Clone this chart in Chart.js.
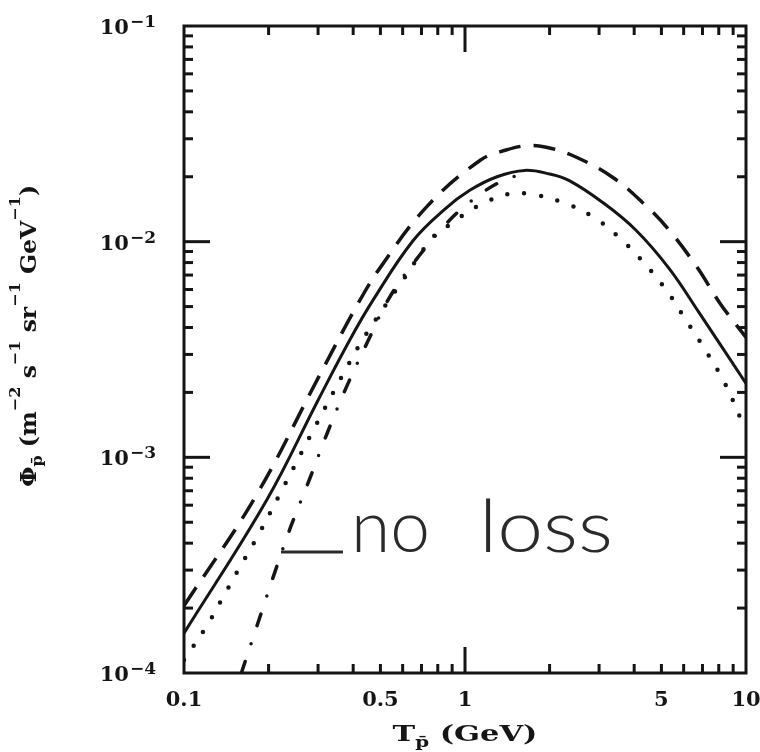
<!DOCTYPE html>
<html>
<head>
<meta charset="utf-8">
<script src="https://cdn.jsdelivr.net/npm/chart.js@4.4.1/dist/chart.umd.min.js"></script>
<style>
  html, body { margin: 0; padding: 0; background: #fff; }
  canvas { display: block; }
</style>
</head>
<body>
<canvas id="myChart" width="760" height="752"></canvas>
<script>
// curves (T in GeV, flux in m^-2 s^-1 sr^-1 GeV^-1)
var solidT   = [0.1, 0.197, 0.3, 0.389, 0.47, 0.653, 0.85, 1.04, 1.3, 1.63, 2.0, 2.35, 3.09, 4.06, 5.33, 6.8, 10];
var solidPhi = [1.53e-4, 6.34e-4, 1.84e-3, 3.5e-3, 5.34e-3, 0.0101, 0.0142, 0.0173, 0.0200, 0.0214, 0.0206, 0.0192, 0.0152, 0.0113, 7.5e-3, 4.7e-3, 2.2e-3];

var dashedT   = [0.1, 0.18, 0.3, 0.416, 0.5, 0.73, 1.13, 1.4, 1.69, 2.0, 2.48, 3.35, 4.4, 5.33, 6.7, 8.1, 10];
var dashedPhi = [2.05e-4, 6.6e-4, 2.33e-3, 5.16e-3, 7.6e-3, 0.0145, 0.0238, 0.0266, 0.0279, 0.0272, 0.0247, 0.0199, 0.0147, 0.0113, 7.6e-3, 5.16e-3, 3.6e-3];

var dottedT   = [0.1, 0.12, 0.138, 0.159, 0.184, 0.225, 0.294, 0.386, 0.446, 0.6, 0.77, 0.9, 1.1, 1.44, 1.66, 2.2, 2.87, 3.59, 4.38, 5.26, 6.0, 7.19, 8.36, 9.6];
var dottedPhi = [1.15e-4, 1.64e-4, 2.26e-4, 3.14e-4, 4.37e-4, 7.2e-4, 1.40e-3, 2.72e-3, 3.75e-3, 6.6e-3, 0.0105, 0.0122, 0.01455, 0.01668, 0.0167, 0.01531, 0.01297, 0.01027, 7.85e-3, 5.85e-3, 4.5e-3, 3.12e-3, 2.24e-3, 1.5e-3];

var dashDotT   = [0.16, 0.185, 0.211, 0.24, 0.279, 0.323, 0.378, 0.451, 0.54, 0.689, 0.881, 1.04, 1.3, 1.65];
var dashDotPhi = [1.0e-4, 1.77e-4, 2.96e-4, 4.78e-4, 7.85e-4, 1.29e-3, 2.11e-3, 3.45e-3, 5.54e-3, 8.65e-3, 0.01256, 0.01524, 0.0186, 0.0210];

// axis labels
var xTickValues = [0.1, 0.5, 1, 5, 10];
var xTickLabels = ['0.1', '0.5', '1', '5', '10'];
var yTickExps   = [-1, -2, -3, -4];

var ink = '#151515';
var serif = '"DejaVu Serif", serif';

function toPoints(xs, ys) {
  var pts = [];
  for (var i = 0; i < xs.length; i++) {
    pts.push({ x: xs[i], y: ys[i] });
  }
  return pts;
}

function line(c, x1, y1, x2, y2) {
  c.beginPath();
  c.moveTo(x1, y1);
  c.lineTo(x2, y2);
  c.stroke();
}

// draws a list of [text, style] runs along a baseline, squeezed/stretched to a given length
function drawRuns(c, parts, fonts, shift, x, y, target) {
  var total = 0;
  parts.forEach(function(pt) {
    c.font = fonts[pt[1]];
    total += c.measureText(pt[0]).width;
  });
  c.save();
  c.translate(x, y);
  c.scale(target / total, 1);
  var cx = -total / 2;
  c.textAlign = 'left';
  parts.forEach(function(pt) {
    c.font = fonts[pt[1]];
    c.fillText(pt[0], cx, shift[pt[1]]);
    cx += c.measureText(pt[0]).width;
  });
  c.restore();
}

function fitText(c, txt, x, y, w) {
  var m = c.measureText(txt).width;
  c.save();
  c.translate(x, y);
  c.scale(w / m, 1);
  c.fillText(txt, 0, 0);
  c.restore();
}

// frame, inward ticks and all the text
var frameAndText = {
  id: 'frameAndText',
  afterDraw: function(chart) {
    var c = chart.ctx;
    var a = chart.chartArea;
    var xs = chart.scales.x;
    var ys = chart.scales.y;

    c.save();
    c.strokeStyle = ink;
    c.fillStyle = ink;
    c.lineWidth = 3;
    c.lineCap = 'butt';
    c.strokeRect(a.left, a.top, a.right - a.left, a.bottom - a.top);

    // x ticks, bottom and top
    [0.1, 1].forEach(function(d) {
      for (var m = 1; m <= 9; m++) {
        if (d === 0.1 && m === 1) continue;
        var p = xs.getPixelForValue(d * m);
        var len = (m === 1) ? 26 : 9;
        line(c, p, a.bottom, p, a.bottom - len);
        line(c, p, a.top, p, a.top + len);
      }
    });

    // y ticks, left and right
    [1e-4, 1e-3, 1e-2].forEach(function(d) {
      for (var m = 1; m <= 9; m++) {
        if (d === 1e-4 && m === 1) continue;
        var p = ys.getPixelForValue(d * m);
        var len = (m === 1) ? 26 : 9;
        line(c, a.left, p, a.left + len, p);
        line(c, a.right, p, a.right - len, p);
      }
    });

    // x tick labels
    c.font = 'bold 21px ' + serif;
    c.textAlign = 'center';
    c.textBaseline = 'alphabetic';
    for (var i = 0; i < xTickValues.length; i++) {
      c.fillText(xTickLabels[i], xs.getPixelForValue(xTickValues[i]), 706);
    }

    // y tick labels 10^-n
    for (var j = 0; j < yTickExps.length; j++) {
      var ty = ys.getPixelForValue(Math.pow(10, yTickExps[j]));
      var sup = '\u2212' + Math.abs(yTickExps[j]);
      c.textAlign = 'right';
      c.font = 'bold 17px ' + serif;
      var supW = c.measureText(sup).width;
      c.fillText(sup, 156, ty + 1);
      c.font = 'bold 21px ' + serif;
      c.fillText('10', 156 - supW - 1, ty + 8);
    }

    // x title: T_pbar (GeV)
    drawRuns(c, [['T', 0], ['p\u0304', 1], [' (GeV)', 0]],
      ['bold 23px ' + serif, 'bold 15px ' + serif], [0, 6],
      (a.left + a.right) / 2, 741, 145);

    // y title, rotated
    c.save();
    c.translate(36, 336);
    c.rotate(-Math.PI / 2);
    drawRuns(c, [
      ['\u03A6', 0], ['p\u0304', 2], [' (m', 0], ['\u22122', 1], [' s', 0], ['\u22121', 1],
      [' sr', 0], ['\u22121', 1], [' GeV', 0], ['\u22121', 1], [')', 0]
    ], ['bold 22px ' + serif, 'bold 15px ' + serif, 'bold 15px ' + serif], [0, -16, 6], 0, 0, 302);
    c.restore();

    // hand written note
    c.strokeStyle = '#2a2a2a';
    c.fillStyle = '#2a2a2a';
    c.lineWidth = 3;
    line(c, 281, 552, 343, 552);
    c.font = '300 72px Lato, "Liberation Sans", sans-serif';
    c.textAlign = 'left';
    fitText(c, 'no', 351, 552, 79);
    fitText(c, 'loss', 479, 552, 134);

    c.restore();
  }
};

var ctx = document.getElementById('myChart').getContext('2d');
var myChart = new Chart(ctx, {
  type: 'line',
  data: {
    datasets: [{
      label: 'solid',
      data: toPoints(solidT, solidPhi),
      borderColor: ink,
      borderWidth: 3
    }, {
      label: 'dashed',
      data: toPoints(dashedT, dashedPhi),
      borderColor: ink,
      borderWidth: 3.5,
      borderDash: [22, 13]
    }, {
      label: 'dotted',
      data: toPoints(dottedT, dottedPhi),
      borderColor: ink,
      borderWidth: 4.5,
      borderCapStyle: 'round',
      borderDash: [0, 17]
    }, {
      label: 'dash-dot',
      data: toPoints(dashDotT, dashDotPhi),
      borderColor: ink,
      borderWidth: 3.5,
      borderCapStyle: 'round',
      borderDash: [12, 19, 0, 19]
    }]
  },
  options: {
    responsive: false,
    animation: false,
    layout: { padding: { left: 184, right: 14, top: 26, bottom: 79 } },
    elements: {
      point: { radius: 0 },
      line: { tension: 0.4, fill: false }
    },
    plugins: {
      legend: { display: false },
      tooltip: { enabled: false }
    },
    scales: {
      x: { type: 'logarithmic', min: 0.1, max: 10, display: false },
      y: { type: 'logarithmic', min: 1e-4, max: 0.1, display: false }
    }
  },
  plugins: [frameAndText]
});
</script>
</body>
</html>
